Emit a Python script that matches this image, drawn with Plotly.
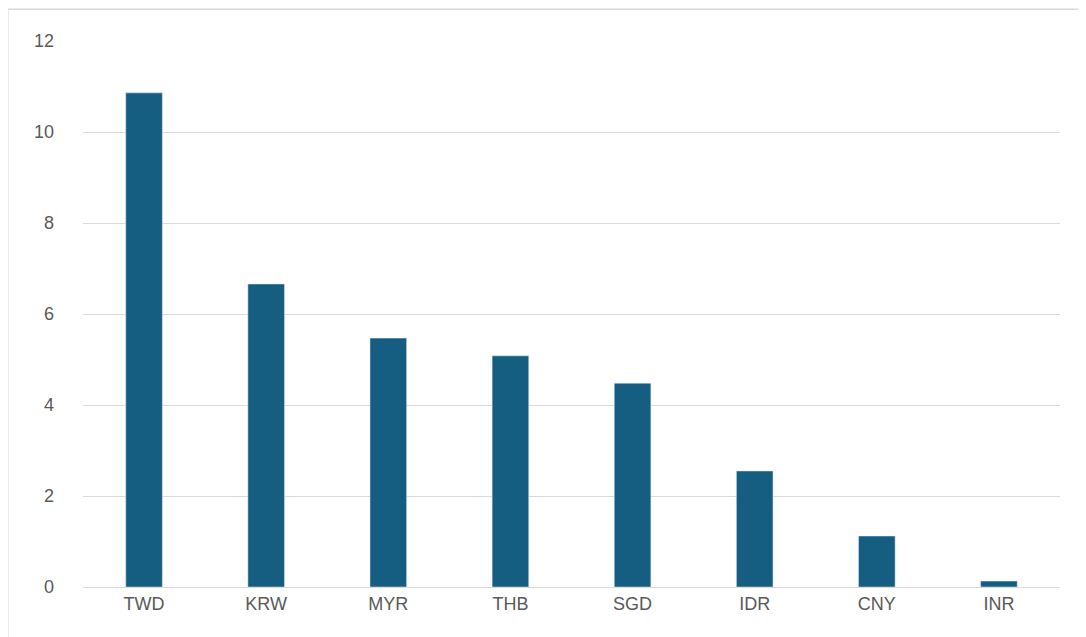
import plotly.graph_objects as go

currencies = ["TWD", "KRW", "MYR", "THB", "SGD", "IDR", "CNY", "INR"]
values = [10.86, 6.66, 5.47, 5.08, 4.48, 2.55, 1.12, 0.13]

fig = go.Figure(go.Bar(x=currencies, y=values, marker_color="#155E82", width=0.3))

fig.update_layout(
    width=1086, height=637,
    paper_bgcolor="white", plot_bgcolor="white",
    margin=dict(l=75, r=34, t=33, b=58),
    font=dict(family="Liberation Sans, Arial", size=18, color="#595959"),
    showlegend=False,
    shapes=[dict(type="rect", xref="paper", yref="paper", x0=-0.077, x1=1.034, y0=-0.105, y1=1.058,
                 line=dict(color="#D9D9D9", width=1.5))],
)
fig.update_yaxes(range=[0, 12], dtick=2, showgrid=True, gridcolor="#D9D9D9", gridwidth=1,
                 zeroline=False, ticks="", ticklabelstandoff=28)
fig.update_xaxes(showline=True, linecolor="#D9D9D9", linewidth=1, ticks="")

fig.write_html("out.html")
